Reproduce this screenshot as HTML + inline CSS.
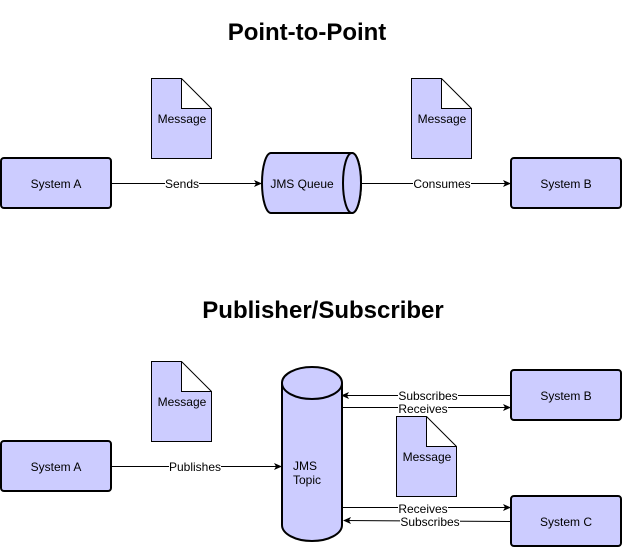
<!DOCTYPE html>
<html><head><style>html,body{margin:0;padding:0;background:#fff}</style></head><body>
<svg width="622" height="548" xmlns="http://www.w3.org/2000/svg" font-family="Liberation Sans, sans-serif">
<defs><marker id="a" markerWidth="8" markerHeight="8" refX="7" refY="4" orient="auto" markerUnits="userSpaceOnUse"><path d="M0,0.5 L8,4 L0,7.5 L2,4 Z" fill="#000"/></marker></defs>
<g font-weight="bold" font-size="24" text-anchor="middle" fill="#000">
<text x="307" y="40">Point-to-Point</text>
<text x="323" y="318">Publisher/Subscriber</text>
</g>
<g fill="#ccccff" stroke="#000">
<rect x="1" y="158" width="110" height="50" rx="3" stroke-width="2"/>
<rect x="511" y="158" width="110" height="50" rx="3" stroke-width="2"/>
<path d="M151.5,78.5 H181.5 L211.5,108.5 V158.5 H151.5 Z M181.5,78.5 V108.5 H211.5" stroke-width="1"/>
<path d="M411.5,78.5 H441.5 L471.5,108.5 V158.5 H411.5 Z M441.5,78.5 V108.5 H471.5" stroke-width="1"/>
<path d="M271,153 H352 A9,30 0 0 1 352,213 H271 A9,30 0 0 1 271,153 Z" stroke-width="2"/>
<ellipse cx="352" cy="183" rx="9" ry="30" stroke-width="2"/>
<rect x="1" y="441" width="110" height="50" rx="3" stroke-width="2"/>
<rect x="511" y="370" width="110" height="50" rx="3" stroke-width="2"/>
<rect x="511" y="496" width="110" height="50" rx="3" stroke-width="2"/>
<path d="M151.5,361.5 H181.5 L211.5,391.5 V441.5 H151.5 Z M181.5,361.5 V391.5 H211.5" stroke-width="1"/>
<path d="M396.5,416.5 H426.5 L456.5,446.5 V496.5 H396.5 Z M426.5,416.5 V446.5 H456.5" stroke-width="1"/>
<path d="M282,383 A30,16 0 0 1 342,383 V525 A30,16 0 0 1 282,525 Z" stroke-width="2"/>
<path d="M282,383 A30,16 0 0 0 342,383" fill="none" stroke-width="2"/>
</g>
<g stroke="#000" stroke-width="1" fill="none" marker-end="url(#a)">
<line x1="112" y1="183.5" x2="261" y2="183.5"/>
<line x1="362" y1="183.5" x2="510" y2="183.5"/>
<line x1="112" y1="466.5" x2="281" y2="466.5"/>
<line x1="510" y1="395.5" x2="342" y2="395.5"/>
<line x1="343" y1="407.5" x2="510" y2="407.5"/>
<line x1="343" y1="507.5" x2="510" y2="507.5"/>
<line x1="510" y1="521.5" x2="344" y2="520.5"/>
</g>
<g font-size="12" fill="#000" text-anchor="middle">
<text x="56" y="188">System A</text>
<text x="566" y="188">System B</text>
<text x="302" y="188">JMS Queue</text>
<text x="182" y="123">Message</text>
<text x="442" y="123">Message</text>
<text x="56" y="471">System A</text>
<text x="566" y="400">System B</text>
<text x="566" y="526">System C</text>
<text x="182" y="406">Message</text>
<text x="427" y="461">Message</text>
<text x="293" y="470" text-anchor="start">JMS</text>
<text x="293" y="484" text-anchor="start">Topic</text>
</g>
<g font-size="12" fill="#000" text-anchor="middle">
<rect x="165" y="177" width="34" height="13" fill="#fff"/><text x="182" y="188">Sends</text>
<rect x="413" y="177" width="58" height="13" fill="#fff"/><text x="442" y="188">Consumes</text>
<rect x="169" y="460" width="52" height="13" fill="#fff"/><text x="195" y="471">Publishes</text>
<rect x="398" y="389" width="60" height="12" fill="#fff"/><text x="428" y="400">Subscribes</text>
<rect x="398" y="402" width="50" height="11" fill="#fff"/><text x="423" y="413">Receives</text>
<rect x="398" y="502" width="50" height="11" fill="#fff"/><text x="423" y="513">Receives</text>
<rect x="400" y="515" width="60" height="12" fill="#fff"/><text x="430" y="526">Subscribes</text>
</g>
</svg>
</body></html>
